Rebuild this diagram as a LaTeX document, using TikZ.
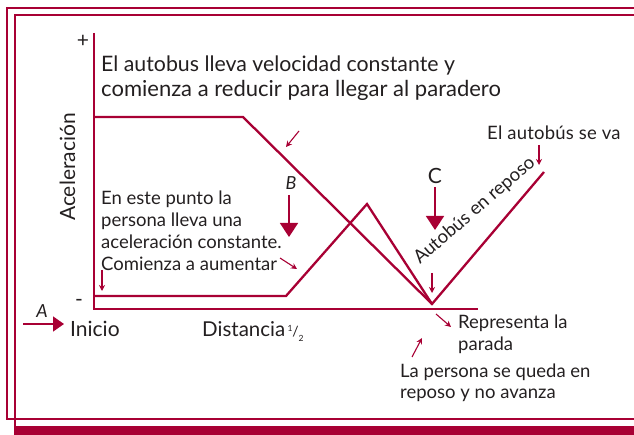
\documentclass[tikz,border=0pt]{standalone}
\usepackage{fontspec}
\setmainfont{Lato}
\usetikzlibrary{arrows.meta}
\definecolor{crim}{RGB}{168,0,52}
\definecolor{ink}{RGB}{35,31,32}
\begin{document}
\begin{tikzpicture}[x=1pt,y=-1pt,
  frame/.style={draw=crim,line width=2pt},
  curve/.style={draw=crim,line width=2.3pt,line join=miter},
  axis/.style={draw=crim,line width=2pt},
  pointer/.style={draw=crim,line width=1.1pt,-{Stealth[length=6pt,width=6pt]}},
  bigarrow/.style={draw=crim,line width=1.6pt,-{Triangle[length=14pt,width=18pt]}},
  big/.style={font=\fontsize{21}{25}\selectfont,text=ink,inner sep=0pt},
  small/.style={font=\fontsize{18.5}{22}\selectfont,text=ink,inner sep=0pt},
  letter/.style={font=\fontsize{18}{20}\selectfont\itshape,text=ink,inner sep=0pt},
  tiny/.style={font=\fontsize{8.5}{9}\selectfont,text=ink,inner sep=0pt},
]
\useasboundingbox (0,0) rectangle (634,435);
\clip (0,0) rectangle (634,435);
% frames
\draw[frame] (7,8) rectangle (700,419);
\draw[frame] (15,15) rectangle (700,430);
\fill[crim] (14,426) rectangle (700,436);
% axes
\coordinate (ytop) at (94,33);
\coordinate (orig) at (94,309);
\coordinate (xend) at (478,309);
\draw[axis] (ytop) -- (orig) -- (xend);
% curves
\coordinate (b1) at (94,117);
\coordinate (b2) at (243,117);
\coordinate (v) at (432,304);
\coordinate (b4) at (544,172);
\coordinate (p1) at (94,296);
\coordinate (p2) at (286,296);
\coordinate (p3) at (367,204);
\draw[curve] (b1) -- (b2) -- (v) -- (b4);
\draw[curve] (p1) -- (p2) -- (p3) -- (v);
% axis labels
\node[big] (plus) at (83,41) {+};
\node[big,anchor=base] (minus) at (79,307) {-};
\node[big,anchor=base west,rotate=90] (ylab) at (75,221) {Aceleración};
\node[big,anchor=base west] (inicio) at (70,337) {Inicio};
\node[big,anchor=base west,font=\fontsize{20.5}{22}\selectfont] (dist) at (202,337) {Distancia};
\node[tiny] (half1) at (290,328) {1};
\node[font=\fontsize{14}{14}\selectfont,text=ink,inner sep=0pt] (halfs) at (295.5,331.5) {/};
\node[tiny] (half2) at (301,338) {2};
% title
\node[big,anchor=base west,font=\fontsize{21.3}{25}\selectfont] (t1) at (101,72) {El autobus lleva velocidad constante y};
\node[big,anchor=base west,font=\fontsize{22}{25}\selectfont] (t2) at (101,97) {comienza a reducir para llegar al paradero};
% left block
\node[small,anchor=base west] (l1) at (101,205) {En este punto la};
\node[small,anchor=base west] (l2) at (101,227) {persona lleva una};
\node[small,anchor=base west] (l3) at (101,249) {aceleración constante.};
\node[small,anchor=base west] (l4) at (101,271) {Comienza a aumentar};
% right texts
\node[small,anchor=base west,font=\fontsize{18.5}{22}\selectfont\addfontfeature{LetterSpace=1.2}] (r1) at (487,140) {El autobús se va};
\node[small,anchor=base west] (r2) at (458,328) {Representa la};
\node[small,anchor=base west] (r3) at (458,350) {parada};
\node[small,anchor=base west] (r4) at (400,377) {La persona se queda en};
\node[small,anchor=base west] (r5) at (400,398) {reposo y no avanza};
\node[small,anchor=base west,rotate=41,font=\fontsize{18.5}{22}\selectfont] (rep) at (420,265) {Autobús en reposo};
% letters and big arrows
\node[letter] (la) at (42,311) {A};
\coordinate (a0) at (23,324);
\coordinate (a1) at (64,324);
\draw[bigarrow,-{Triangle[length=11pt,width=15pt]}] (a0) -- (a1);
\node[letter] (lb) at (291,183) {B};
\coordinate (bb0) at (289,195);
\coordinate (bb1) at (289,237);
\draw[bigarrow] (bb0) -- (bb1);
\node[big] (lc) at (435,176) {C};
\coordinate (c0) at (435,187);
\coordinate (c1) at (435,230);
\draw[bigarrow] (c0) -- (c1);
% pointers
\coordinate (q1a) at (299,131); \coordinate (q1b) at (286,147);
\coordinate (q2a) at (280,258); \coordinate (q2b) at (297,269);
\coordinate (q3a) at (102,270); \coordinate (q3b) at (102,291);
\coordinate (q4a) at (432,273); \coordinate (q4b) at (432,293);
\coordinate (q5a) at (539,145); \coordinate (q5b) at (539,165);
\coordinate (q6a) at (436,314); \coordinate (q6b) at (451,327);
\coordinate (q7a) at (412,357); \coordinate (q7b) at (422,338);
\draw[pointer] (q1a) -- (q1b);
\draw[pointer] (q2a) -- (q2b);
\draw[pointer] (q3a) -- (q3b);
\draw[pointer] (q4a) -- (q4b);
\draw[pointer] (q5a) -- (q5b);
\draw[pointer] (q6a) -- (q6b);
\draw[pointer] (q7a) -- (q7b);
\end{tikzpicture}
\end{document}
